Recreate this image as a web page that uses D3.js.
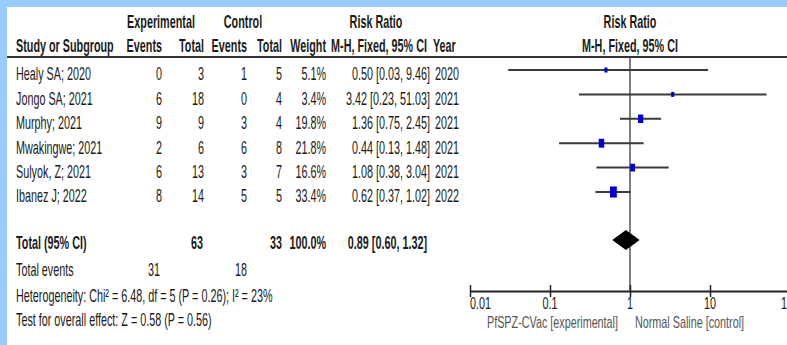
<!DOCTYPE html>
<html>
<head>
<meta charset="utf-8">
<script src="https://cdn.jsdelivr.net/npm/d3@7"></script>
<style>
  html, body { margin: 0; padding: 0; background: #99ccff; }
  svg { display: block; }
</style>
</head>
<body>
<svg width="787" height="345"></svg>
<script>
// study table
const studies    = ["Healy SA; 2020", "Jongo SA; 2021", "Murphy; 2021", "Mwakingwe; 2021", "Sulyok, Z; 2021", "Ibanez J; 2022"]
const expEvents  = [0, 6, 9, 2, 6, 8]
const expTotal   = [3, 18, 9, 6, 13, 14]
const ctrlEvents = [1, 0, 3, 6, 3, 5]
const ctrlTotal  = [5, 4, 4, 8, 7, 5]
const weights    = [5.1, 3.4, 19.8, 21.8, 16.6, 33.4]
const rr         = [0.50, 3.42, 1.36, 0.44, 1.08, 0.62]
const lo         = [0.03, 0.23, 0.75, 0.13, 0.38, 0.37]
const hi         = [9.46, 51.03, 2.45, 1.48, 3.04, 1.02]
const years      = [2020, 2021, 2021, 2021, 2021, 2022]

// pooled
const total = {label: "Total (95% CI)", expTotal: 63, ctrlTotal: 33, weight: "100.0%", rr: 0.89, lo: 0.60, hi: 1.32}
const totalEvents = [31, 18]
const heterogeneity = "Heterogeneity: Chi² = 6.48, df = 5 (P = 0.26); I² = 23%"
const overallTest = "Test for overall effect: Z = 0.58 (P = 0.56)"

const tickValues = [0.01, 0.1, 1, 10, 100]
const favourLabels = ["PfSPZ-CVac [experimental]", "Normal Saline [control]"]

const svg = d3.select("svg")
const fs = 18, sx = 0.6   // squeezed look of the original

svg.append("rect").attr("x", 7).attr("y", 7).attr("width", 780).attr("height", 338).attr("fill", "#fff")

// put text with its vertical centre at y
function label(x, y, str, anchor, bold, color, size) {
  const f = size || fs
  return svg.append("text")
    .attr("transform", `translate(${x},${y}) scale(${sx * fs / f},1)`)
    .attr("dy", "0.36em")
    .attr("text-anchor", anchor || "start")
    .attr("font-family", "'Liberation Sans', Arial, sans-serif")
    .attr("font-size", f)
    .attr("font-weight", bold ? "bold" : "normal")
    .attr("fill", color || "#1a1a1a")
    .text(str)
}

// headers
label(161, 22, "Experimental", "middle", true)
label(243, 22, "Control", "middle", true)
label(376, 22, "Risk Ratio", "middle", true)
label(630, 22, "Risk Ratio", "middle", true)
label(16, 46, "Study or Subgroup", "start", true)
label(162, 46, "Events", "end", true)
label(204, 46, "Total", "end", true)
label(247, 46, "Events", "end", true)
label(282, 46, "Total", "end", true)
label(326, 46, "Weight", "end", true)
label(427, 46, "M-H, Fixed, 95% CI", "end", true)
label(433, 46, "Year", "start", true)
label(630, 46, "M-H, Fixed, 95% CI", "middle", true)

svg.append("line").attr("x1", 7).attr("x2", 787).attr("y1", 57).attr("y2", 57)
  .attr("stroke", "#333").attr("stroke-width", 2)

const x = d3.scaleLog().domain([0.01, 100]).range([470, 790])
const y = d3.scaleLinear().domain([0, 5]).range([70, 192])
const size = d3.scaleSqrt().domain([0, 33.4]).range([0, 11])
const fmt = d3.format(".2f")

studies.forEach((s, i) => {
  const ty = y(i) + 4
  label(16, ty, s)
  label(162, ty, expEvents[i], "end")
  label(204, ty, expTotal[i], "end")
  label(247, ty, ctrlEvents[i], "end")
  label(282, ty, ctrlTotal[i], "end")
  label(326, ty, weights[i] + "%", "end")
  label(430, ty, `${fmt(rr[i])} [${fmt(lo[i])}, ${fmt(hi[i])}]`, "end")
  label(435, ty, years[i])
})

// null line
svg.append("line").attr("x1", x(1)).attr("x2", x(1)).attr("y1", 57).attr("y2", 291)
  .attr("stroke", "#555").attr("stroke-width", 1.5)

// confidence intervals
svg.selectAll("line.ci").data(studies).enter().append("line")
  .attr("class", "ci")
  .attr("x1", (d, i) => x(lo[i]))
  .attr("x2", (d, i) => Math.min(x(hi[i]), 787))
  .attr("y1", (d, i) => y(i))
  .attr("y2", (d, i) => y(i))
  .attr("stroke", "#3a3a3a")
  .attr("stroke-width", 2)

svg.selectAll("rect.pt").data(studies).enter().append("rect")
  .attr("class", "pt")
  .each(function(d, i) {
    const h = Math.max(size(weights[i]), 5), w = h * 0.62
    d3.select(this)
      .attr("x", x(rr[i]) - w / 2).attr("y", y(i) - h / 2)
      .attr("width", w).attr("height", h)
  })
  .attr("fill", "#0000c8")

// total row
label(16, 243, total.label, "start", true)
label(203, 243, total.expTotal, "end", true)
label(282, 243, total.ctrlTotal, "end", true)
label(326, 243, total.weight, "end", true)
label(427, 243, `${fmt(total.rr)} [${fmt(total.lo)}, ${fmt(total.hi)}]`, "end", true)

const dy = 240
svg.append("path")
  .attr("d", `M${x(total.lo)},${dy} L${x(total.rr)},${dy - 10} L${x(total.hi)},${dy} L${x(total.rr)},${dy + 10} Z`)
  .attr("fill", "#000")

label(16, 270, "Total events")
label(160, 270, totalEvents[0], "end")
label(247, 270, totalEvents[1], "end")
label(16, 296, heterogeneity)
label(16, 320, overallTest)

// axis
const axis = svg.append("g").attr("transform", "translate(0,291)")
  .call(d3.axisBottom(x).tickValues(tickValues).tickFormat(d => String(d)).tickSize(6).tickSizeOuter(0))
axis.select(".domain").attr("stroke", "#222").attr("stroke-width", 2)
axis.selectAll(".tick line").attr("y1", -6).attr("y2", 6).attr("stroke", "#222").attr("stroke-width", 1.5)
axis.selectAll(".tick text").remove()
tickValues.forEach((t, i) => label(x(t), 303, String(t), i === 0 ? "start" : "middle", false, null, 16))

label(618, 322, favourLabels[0], "end", false, "#555", 16)
label(635, 322, favourLabels[1], "start", false, "#555", 16)
</script>
</body>
</html>
